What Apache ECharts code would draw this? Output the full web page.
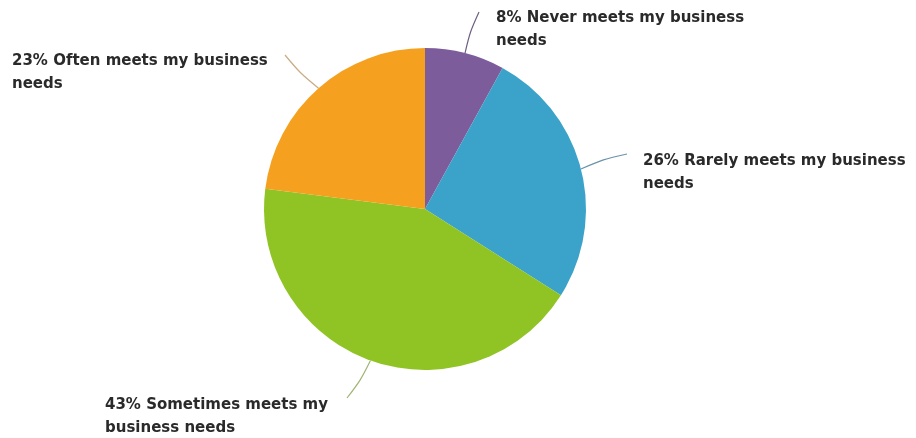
<!DOCTYPE html>
<html>
<head>
<meta charset="utf-8">
<script src="https://cdn.jsdelivr.net/npm/echarts@6/dist/echarts.min.js"></script>
<style>
html,body{margin:0;padding:0;background:#fff;}
#chart{width:916px;height:438px;}
</style>
</head>
<body>
<div id="chart"></div>
<script>
var categories = ['Never meets my business\nneeds', 'Rarely meets my business\nneeds', 'Sometimes meets my\nbusiness needs', 'Often meets my business\nneeds'];
var values = [8, 26, 43, 23];
var colors = ['#7d5c9b', '#3ba3c9', '#90c425', '#f5a11f'];
var lineColors = ['#6e5f80', '#6a93a8', '#a0b474', '#c9ad84'];
var labelPos = [[496, 7], [643, 150], [105, 394], [12, 50]];
var lineEnds = [[479, 12], [627, 154], [347, 398], [285, 55]];

var chart = echarts.init(document.getElementById('chart'), null, {renderer: 'canvas'});
var data = categories.map(function (c, i) {
  return {
    name: c, value: values[i],
    itemStyle: {color: colors[i]},
    labelLine: {lineStyle: {color: lineColors[i], width: 1.2}}
  };
});
chart.setOption({
  backgroundColor: '#ffffff',
  animation: false,
  series: [{
    type: 'pie',
    center: [425, 209],
    radius: 161,
    startAngle: 90,
    clockwise: true,
    data: data,
    itemStyle: {borderWidth: 0},
    label: {
      show: true,
      formatter: '{d}% {b}',
      fontFamily: 'DejaVu Sans',
      fontWeight: 'bold',
      fontSize: 15,
      lineHeight: 23,
      color: '#2a2a2a'
    },
    labelLine: {show: true, length: 15, length2: 15, smooth: 0.3},
    labelLayout: function (params) {
      var i = params.dataIndex;
      var p = labelPos[i];
      var s = params.labelLinePoints ? params.labelLinePoints[0] : null;
      var res = {x: p[0], y: p[1], align: 'left', verticalAlign: 'top'};
      if (s) {
        var e = lineEnds[i];
        var m = [(s[0] + e[0]) / 2 + (e[1] - s[1]) * 0.05, (s[1] + e[1]) / 2 - (e[0] - s[0]) * 0.05];
        res.labelLinePoints = [s, m, e];
      }
      return res;
    }
  }]
});
</script>
</body>
</html>
